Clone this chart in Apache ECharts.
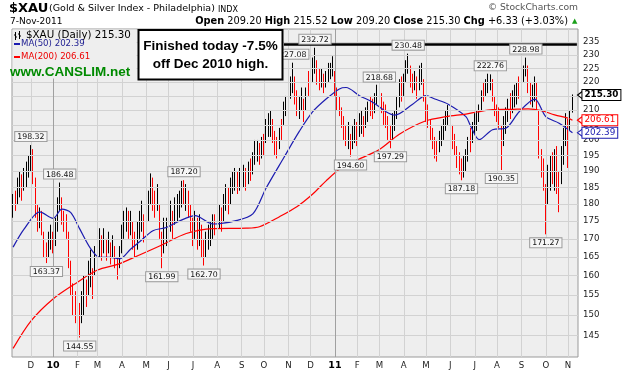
<!DOCTYPE html>
<html><head><meta charset="utf-8">
<script src="https://cdn.jsdelivr.net/npm/echarts@6/dist/echarts.min.js"></script>
<style>html,body{margin:0;padding:0;background:#fff}#c{width:622px;height:373px}</style>
</head><body><div id="c"></div>
<script>
// ---------- data ----------
const N = 255; // two-trading-day slots across the plot
const monthLabels = ['D','10','F','M','A','M','J','J','A','S','O','N','D','11','F','M','A','M','J','J','A','S','O','N'];
const monthIdx = [8,18,29,38,49,60,70,81,92,103,113,124,134,145,155,165,176,186,197,208,218,229,240,250];
const yearIdx = [18,145];
const yTicks = [145,150,155,160,165,170,175,180,185,190,195,200,205,210,215,220,225,230,235];

const barLow = [
176,178,180,182,181,184,185,188,190,186,
176,172,173,171,165,163.37,165,167,166,168,
172,178,174,172,170,162,155,150,148,150,
144.55,148,150,152,155,157,154,160,164,165,
164,166,164,166,163,165,162,159,162,166,
170,172,170,171,167,165,167,170,172,169,
172,175,180,178,176,178,170,161.99,166,168,
171,172,170,174,175,176,179,180,178,176,
172,168,170,167,168,165,162.7,165,167,168,
170,171,172,173,172,175,178,177,180,183,
184,183,184,183,185,184,186,187,189,192,
193,192,194,195,199,201,201,199,195,194,
197,200,205,208,210,214,216,212,208,207,
210,206,210,215,218,220,223,219,217,218,
216,218,220,221,222,215,210,208,204,200,
198,197,194.6,197,199,198,201,202,201,204,
206,208,207,209,212,212,209,205,204,200,
197.29,200,203,207,211,213,215,220,223,218,
216,217,214,217,219,213,206,204,200,197,
194,193,196,198,200,203,205,201,197,195,
191,189,187.18,188,190,193,196,199,202,203,
206,210,213,215,216,217,213,208,206,204,
190.35,198,202,206,207,209,211,212,214,216,
220,222,216,212,211,213,210,194,188,184,
171.27,180,184,186,184,183,177.6,186,192,198,
191,203,209.2];
const barHigh = [
183,184,188,190,189,191,193,195,198.32,197,
188,180,179,178,172,169,172,174,172,176,
182,186.48,182,178,177,172,164,158,156,157,
153,156,160,159,164,167,162,168,172,173,
171,173,170,172,169,171,168,165,168,174,
178,179,178,178,175,172,175,178,181,177,
182,184,189.3,188,184,186,180,172,176,176,
179,181,178,182,183,184,187,187.2,186,184,
180,176,178,176,177,174,170,172,174,175,
177,177,179,180,179,183,186,185,188,190,
191,190,191,190,192,191,193,194,196,200,
200,199,201,202,207,209,210,207,203,201,
204,207,213,215,217.5,222,227.08,222,217,215,
218,214,218,224,226,229,232.72,228,225,225,
223,224,227,227,229.5,224,218,215,211,208,
205,206,202,205,207,206,209,210,208,211,
213,215,214,216,219,218.68,216,213,212,208,
205,209,210,215,221,222,223,228,230.48,226,
223,224,222,226,227,221,215,212,207,204,
201,200,203,205,207,210,211.8,208,205,202,
198,196,194,195,197,201,204,206,209,210,
212,217,220,221,223,222.76,221,215,212,211,
205,208,211,214,216,217,219,220,222,224,
226,228.98,226,220,219,222,220,210,197,194,
186,192,195,196,197,198,190,198,204,209,
207,210,215.52];
const barUp = [
1,0,1,1,0,1,1,1,1,0,
0,0,1,0,0,0,1,1,0,1,
1,1,0,0,0,0,0,0,0,1,
0,1,1,0,1,1,0,1,1,1,
0,1,0,1,0,1,0,0,1,1,
1,1,0,1,0,0,1,1,1,0,
1,1,1,0,0,1,0,0,1,1,
1,1,0,1,1,1,1,0,1,0,
0,0,1,0,1,0,0,1,1,1,
1,0,1,1,0,1,1,0,1,1,
1,0,1,0,1,0,1,0,1,1,
1,0,1,0,1,1,1,0,0,0,
1,0,1,1,1,1,1,0,0,1,
1,0,1,0,1,1,1,0,0,1,
0,1,1,1,1,0,0,0,0,0,
0,1,0,1,1,0,1,1,0,1,
1,0,0,1,1,1,0,0,0,0,
0,1,1,1,1,0,1,1,1,0,
0,1,0,1,1,0,0,0,0,0,
0,0,1,1,1,1,1,0,0,0,
0,0,0,1,1,1,0,1,1,1,
1,1,0,1,1,1,0,0,0,0,
0,1,1,1,0,1,1,1,0,1,
1,1,0,0,1,1,0,0,0,0,
0,1,1,0,1,0,0,1,1,1,
0,1,1];

const ma50Idx = [0,5,12,18,22,26,30,35,39,44,48,53,57,63,69,75,82,90,100,108,114,122,129,135,141,147,150,156,162,168,172,180,186,190,196,204,206,210,216,222,228,235,240,246,252];
const ma50Val = [167.7,172.8,177.7,175.8,178.5,177.5,172.8,167.2,164.9,164.9,164.5,167.2,169.2,172.3,173.2,175.1,176.6,174.2,175.1,177.1,184.8,194.3,202.9,209.5,213.9,217.5,218,215.1,212.8,209.5,208.3,212.1,215.1,213.9,212.1,207.8,204.8,200.1,203.4,203.9,209.5,213.9,207.8,205.6,202.39];
const ma200Idx = [0,8,18,29,38,47,53,66,78,90,105,111,120,128,135,141,147,154,165,174,186,195,204,209,216,224,232,238,244,250,252];
const ma200Val = [142,148.5,154,158.3,161.5,163,164.5,168,171.5,172.9,173,173.4,176.3,179.3,183,187,190.6,193.2,196.9,201.9,206.4,207.8,208.7,209.4,210.2,210.3,210.5,209.9,208.4,207.3,206.61];

const calloutIdx = [8,15,21,30,67,77,86,126,136,152,165,170,178,202,215,220,231,240];
const calloutVal = [198.32,163.37,186.48,144.55,161.99,187.20,162.70,227.08,232.72,194.60,218.68,197.29,230.48,187.18,222.76,190.35,228.98,171.27];
const calloutPos = ['top','bottom','top','bottom','bottom','top','bottom','top','top','bottom','top','bottom','top','bottom','top','bottom','top','bottom'];

const lastIdx = 252;
const lastClose = 215.30, lastMa50 = 202.39, lastMa200 = 206.61;
const highLine = 233.9, highLineFrom = 122;

// ---------- chart ----------
const SC = 'DejaVu Sans, Verdana, sans-serif';
const AR = 'Liberation Sans, Arial, sans-serif';
const cats = Array.from({length: N}, (_, k) => String(k));
const labelAt = {};
monthIdx.forEach((k, j) => { labelAt[k] = monthLabels[j]; });
const yearSet = new Set(yearIdx);
const candle = barLow.map((lo, k) => barUp[k] ? [lo, barHigh[k], lo, barHigh[k]] : [barHigh[k], lo, lo, barHigh[k]]);
const ma50 = ma50Idx.map((k, j) => [k, ma50Val[j]]);
const ma200 = ma200Idx.map((k, j) => [k, ma200Val[j]]);

const gridMarks = yTicks.map(v => ({
  yAxis: v,
  lineStyle: {color: '#d2d2d2', width: 1, type: 'solid'},
  label: {show: true, position: 'end', distance: 5, formatter: String(v), color: '#222', fontSize: 8.6, fontFamily: SC}
})).concat(monthIdx.map(k => ({
  xAxis: k,
  lineStyle: {color: yearSet.has(k) ? '#a0a0a0' : '#d2d2d2', width: 1, type: 'solid'},
  label: {show: false}
})));

const callouts = calloutIdx.map((k, j) => ({
  coord: [k, calloutVal[j]],
  label: {position: calloutPos[j], formatter: calloutVal[j].toFixed(2)}
}));

function priceBox(val, color, bold) {
  return [
    {coord: [lastIdx, val], symbol: 'triangle', symbolSize: [9, 6], symbolRotate: 90, symbolOffset: [8, 0],
     itemStyle: {color: '#fff', borderColor: color, borderWidth: 1}, label: {show: false}},
    {coord: [lastIdx, val], symbol: 'rect', symbolSize: 0,
     label: {show: true, position: 'right', distance: 10, formatter: val.toFixed(2), color: color,
       fontWeight: bold ? 'bold' : 'normal', fontSize: 8.8, fontFamily: SC, backgroundColor: '#fff',
       borderColor: color, borderWidth: 1, padding: [1, 2, 0, 2]}}
  ];
}

const T = (x, y, text, font, fill, extra) => Object.assign({type: 'text', z: 101, x: x, y: y,
  style: Object.assign({text: text, font: font, fill: fill, textVerticalAlign: 'middle', verticalAlign: 'middle'}, extra || {})});

const option = {
  animation: false,
  backgroundColor: '#ffffff',
  grid: {left: 12, right: 44, top: 29, bottom: 16, show: true, backgroundColor: '#eeeeee', borderColor: '#9a9a9a', borderWidth: 1},
  xAxis: {
    type: 'category', data: cats, boundaryGap: true,
    axisLine: {show: false}, axisTick: {show: false}, splitLine: {show: false},
    axisLabel: {
      interval: 0, margin: 4, color: '#222', fontSize: 8.6, fontFamily: SC,
      formatter: (v, idx) => {
        const t = labelAt[idx];
        if (!t) return '';
        return yearSet.has(idx) ? '{b|' + t + '}' : t;
      },
      rich: {b: {fontWeight: 'bold', fontSize: 9.5, fontFamily: SC, color: '#000'}}
    }
  },
  yAxis: {
    type: 'log', logBase: 10, min: 140, max: 240, position: 'right',
    axisLine: {show: false}, axisTick: {show: false}, axisLabel: {show: false}, splitLine: {show: false}
  },
  series: [
    {
      type: 'line', name: 'gridlines', data: [], z: 1, silent: true,
      markLine: {silent: true, symbol: ['none', 'none'], animation: false, data: gridMarks}
    },
    {
      type: 'candlestick', name: '$XAU', data: candle, z: 3, barWidth: 1,
      itemStyle: {color: '#000000', color0: '#ff0000', borderColor: '#000000', borderColor0: '#ff0000', borderWidth: 1},
      markPoint: {
        silent: true, animation: false, symbol: 'rect', symbolSize: 0,
        label: {show: true, distance: 4, color: '#111', fontSize: 7.8, fontFamily: SC, backgroundColor: '#f6f6f6',
          borderColor: '#9a9a9a', borderWidth: 1, padding: [1, 2, 0, 2]},
        data: callouts.concat(priceBox(lastClose, '#000000', true))
      }
    },
    {
      type: 'line', name: 'MA(50)', data: ma50, z: 4, showSymbol: false, smooth: 0.3,
      lineStyle: {color: '#1c1cb0', width: 1.2},
      markPoint: {silent: true, animation: false, data: priceBox(lastMa50, '#1c1cb0', false)}
    },
    {
      type: 'line', name: 'MA(200)', data: ma200, z: 4, showSymbol: false, smooth: 0.3,
      lineStyle: {color: '#ff0000', width: 1.2},
      markPoint: {silent: true, animation: false, data: priceBox(lastMa200, '#ff0000', false)}
    },
    {
      type: 'line', name: 'highline', data: [], z: 6, silent: true,
      markLine: {silent: true, symbol: ['none', 'none'], animation: false,
        lineStyle: {color: '#000', width: 2.5, type: 'solid'}, label: {show: false},
        data: [[{xAxis: highLineFrom, yAxis: highLine}, {xAxis: N - 1, yAxis: highLine}]]}
    }
  ],
  graphic: [
    T(9, 8.5, '$XAU', 'bold 13px ' + SC, '#000'),
    T(49, 9, '(Gold & Silver Index - Philadelphia)', '9.5px ' + SC, '#000'),
    T(218, 9.5, 'INDX', '8px ' + SC, '#000'),
    T(10, 21.5, '7-Nov-2011', '9px ' + SC, '#000'),
    T(568, 21.5, '{k|Open} 209.20 {k|High} 215.52 {k|Low} 209.20 {k|Close} 215.30 {k|Chg} +6.33 (+3.03%)', '9.8px ' + SC, '#000',
      {textAlign: 'right', align: 'right', rich: {k: {fontWeight: 'bold', fontSize: 9.8, fontFamily: SC, fill: '#000', color: '#000'}}}),
    T(572, 21.5, '\u25B2', '7px ' + SC, '#1aa01a'),
    T(578, 7.5, '\u00A9 StockCharts.com', '9.2px ' + SC, '#555', {textAlign: 'right', align: 'right'}),
    // legend backdrop + icon (small OHLC bars)
    {type: 'rect', z: 100, shape: {x: 12.5, y: 29.5, width: 124, height: 49}, style: {fill: '#eeeeee'}},
    {type: 'polyline', z: 101, shape: {points: [[14, 35], [15.5, 35], [15.5, 32], [15.5, 40], [15.5, 37], [17, 37]]}, style: {stroke: '#000', lineWidth: 1, fill: null}},
    {type: 'polyline', z: 101, shape: {points: [[18, 34], [19.5, 34], [19.5, 31], [19.5, 39], [19.5, 36], [21, 36]]}, style: {stroke: '#000', lineWidth: 1, fill: null}},
    T(26, 35, '$XAU (Daily) 215.30', '10.3px ' + SC, '#000'),
    {type: 'line', z: 101, shape: {x1: 14, y1: 44, x2: 20, y2: 44}, style: {stroke: '#1c1cb0', lineWidth: 2}},
    T(21, 44, 'MA(50) 202.39', '8.6px ' + SC, '#1c1c90'),
    {type: 'line', z: 101, shape: {x1: 14, y1: 57, x2: 20, y2: 57}, style: {stroke: '#ff0000', lineWidth: 2}},
    T(21, 57, 'MA(200) 206.61', '8.6px ' + SC, '#ee0000'),
    T(10, 72, 'www.CANSLIM.net', 'bold 13.5px ' + AR, '#008a00'),
    // annotation box
    {type: 'rect', z: 102, shape: {x: 138.5, y: 30, width: 144, height: 49.5}, style: {fill: '#fff', stroke: '#000', lineWidth: 2}},
    Object.assign(T(210.5, 46.5, 'Finished today -7.5%', 'bold 13.5px ' + AR, '#000', {textAlign: 'center', align: 'center'}), {z: 103}),
    Object.assign(T(210.5, 64.5, 'off Dec 2010 high.', 'bold 13.5px ' + AR, '#000', {textAlign: 'center', align: 'center'}), {z: 103})
  ]
};
const chart = echarts.init(document.getElementById('c'), null, {renderer: 'canvas'});
chart.setOption(option);
</script>
</body></html>
